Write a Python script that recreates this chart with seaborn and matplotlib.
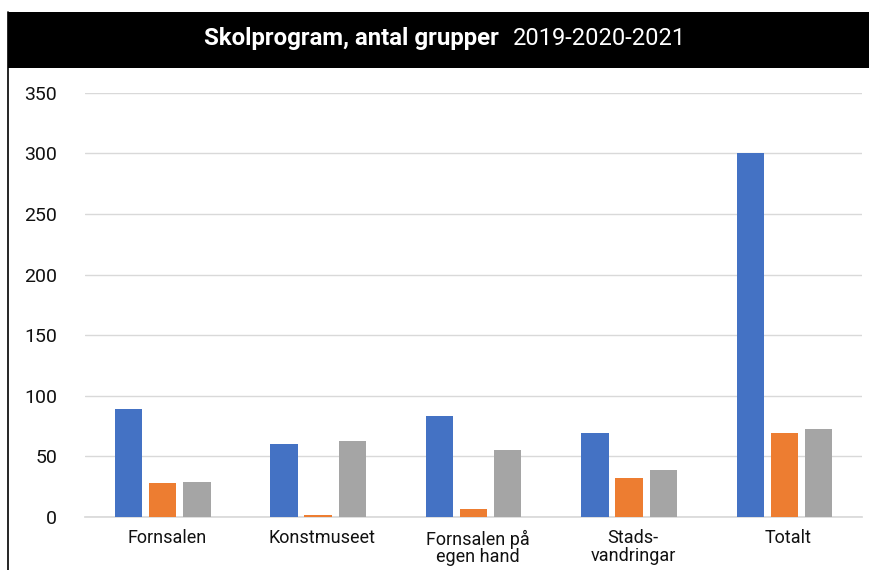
import pandas as pd
import matplotlib
matplotlib.use("Agg")
import matplotlib.pyplot as plt
import matplotlib.transforms as mtransforms
import seaborn as sns

# data
categories = ["Fornsalen", "Konstmuseet", "Fornsalen på\negen hand", "Stads-\nvandringar", "Totalt"]
years = ["2019", "2020", "2021"]
v2019 = [89, 60, 83, 69, 300]
v2020 = [28, 2, 7, 32, 69]
v2021 = [29, 63, 55, 39, 73]
colors = ["#4472C4", "#ED7D31", "#A5A5A5"]

df = pd.DataFrame({
    "kategori": categories * 3,
    "år": [y for y in years for _ in categories],
    "antal": v2019 + v2020 + v2021,
})

sns.set_theme(style="white")
plt.rcParams["font.family"] = ["Roboto", "DejaVu Sans"]

fig = plt.figure(figsize=(8.7, 5.7), dpi=100)
ax = fig.add_axes([0.0977, 0.093, 0.8933, 0.744])

sns.barplot(data=df, x="kategori", y="antal", hue="år", palette=colors,
            saturation=1, width=0.66, gap=0.2, linewidth=0,
            ax=ax, legend=False, zorder=3)

ax.set_ylim(0, 350)
ax.set_yticks(range(0, 351, 50))
ax.set_xlim(-0.5, 4.5)
ax.grid(axis="y", color="#d9d9d9", linewidth=1, zorder=0)
ax.set_axisbelow(True)
for s in ["top", "right", "left"]:
    ax.spines[s].set_visible(False)
ax.spines["bottom"].set_color("#d9d9d9")
ax.set_xlabel("")
ax.set_ylabel("")
ax.tick_params(axis="y", length=0, pad=20, labelsize=14, labelcolor="#111111")
ax.tick_params(axis="x", length=0, pad=9, labelsize=13, labelcolor="#111111")
shift = mtransforms.ScaledTranslation(4 / 100, 0, fig.dpi_scale_trans)
for lab in ax.get_xticklabels():
    lab.set_linespacing(0.95)
    lab.set_transform(lab.get_transform() + shift)

# title bar
fig.patches.append(plt.Rectangle((0.009, 0.881), 0.991, 0.098, transform=fig.transFigure,
                                 facecolor="black", edgecolor="none", zorder=0))
fig.lines.append(plt.Line2D([0.0095, 0.0095], [0.0, 0.979], transform=fig.transFigure,
                            color="black", linewidth=1.2))
fig.text(0.573, 0.933, "Skolprogram, antal grupper", color="white", fontsize=17.3,
         fontweight="bold", ha="right", va="center")
fig.text(0.589, 0.933, "2019-2020-2021", color="white", fontsize=17,
         ha="left", va="center")

fig.savefig("out.png", dpi=100, facecolor="white")
